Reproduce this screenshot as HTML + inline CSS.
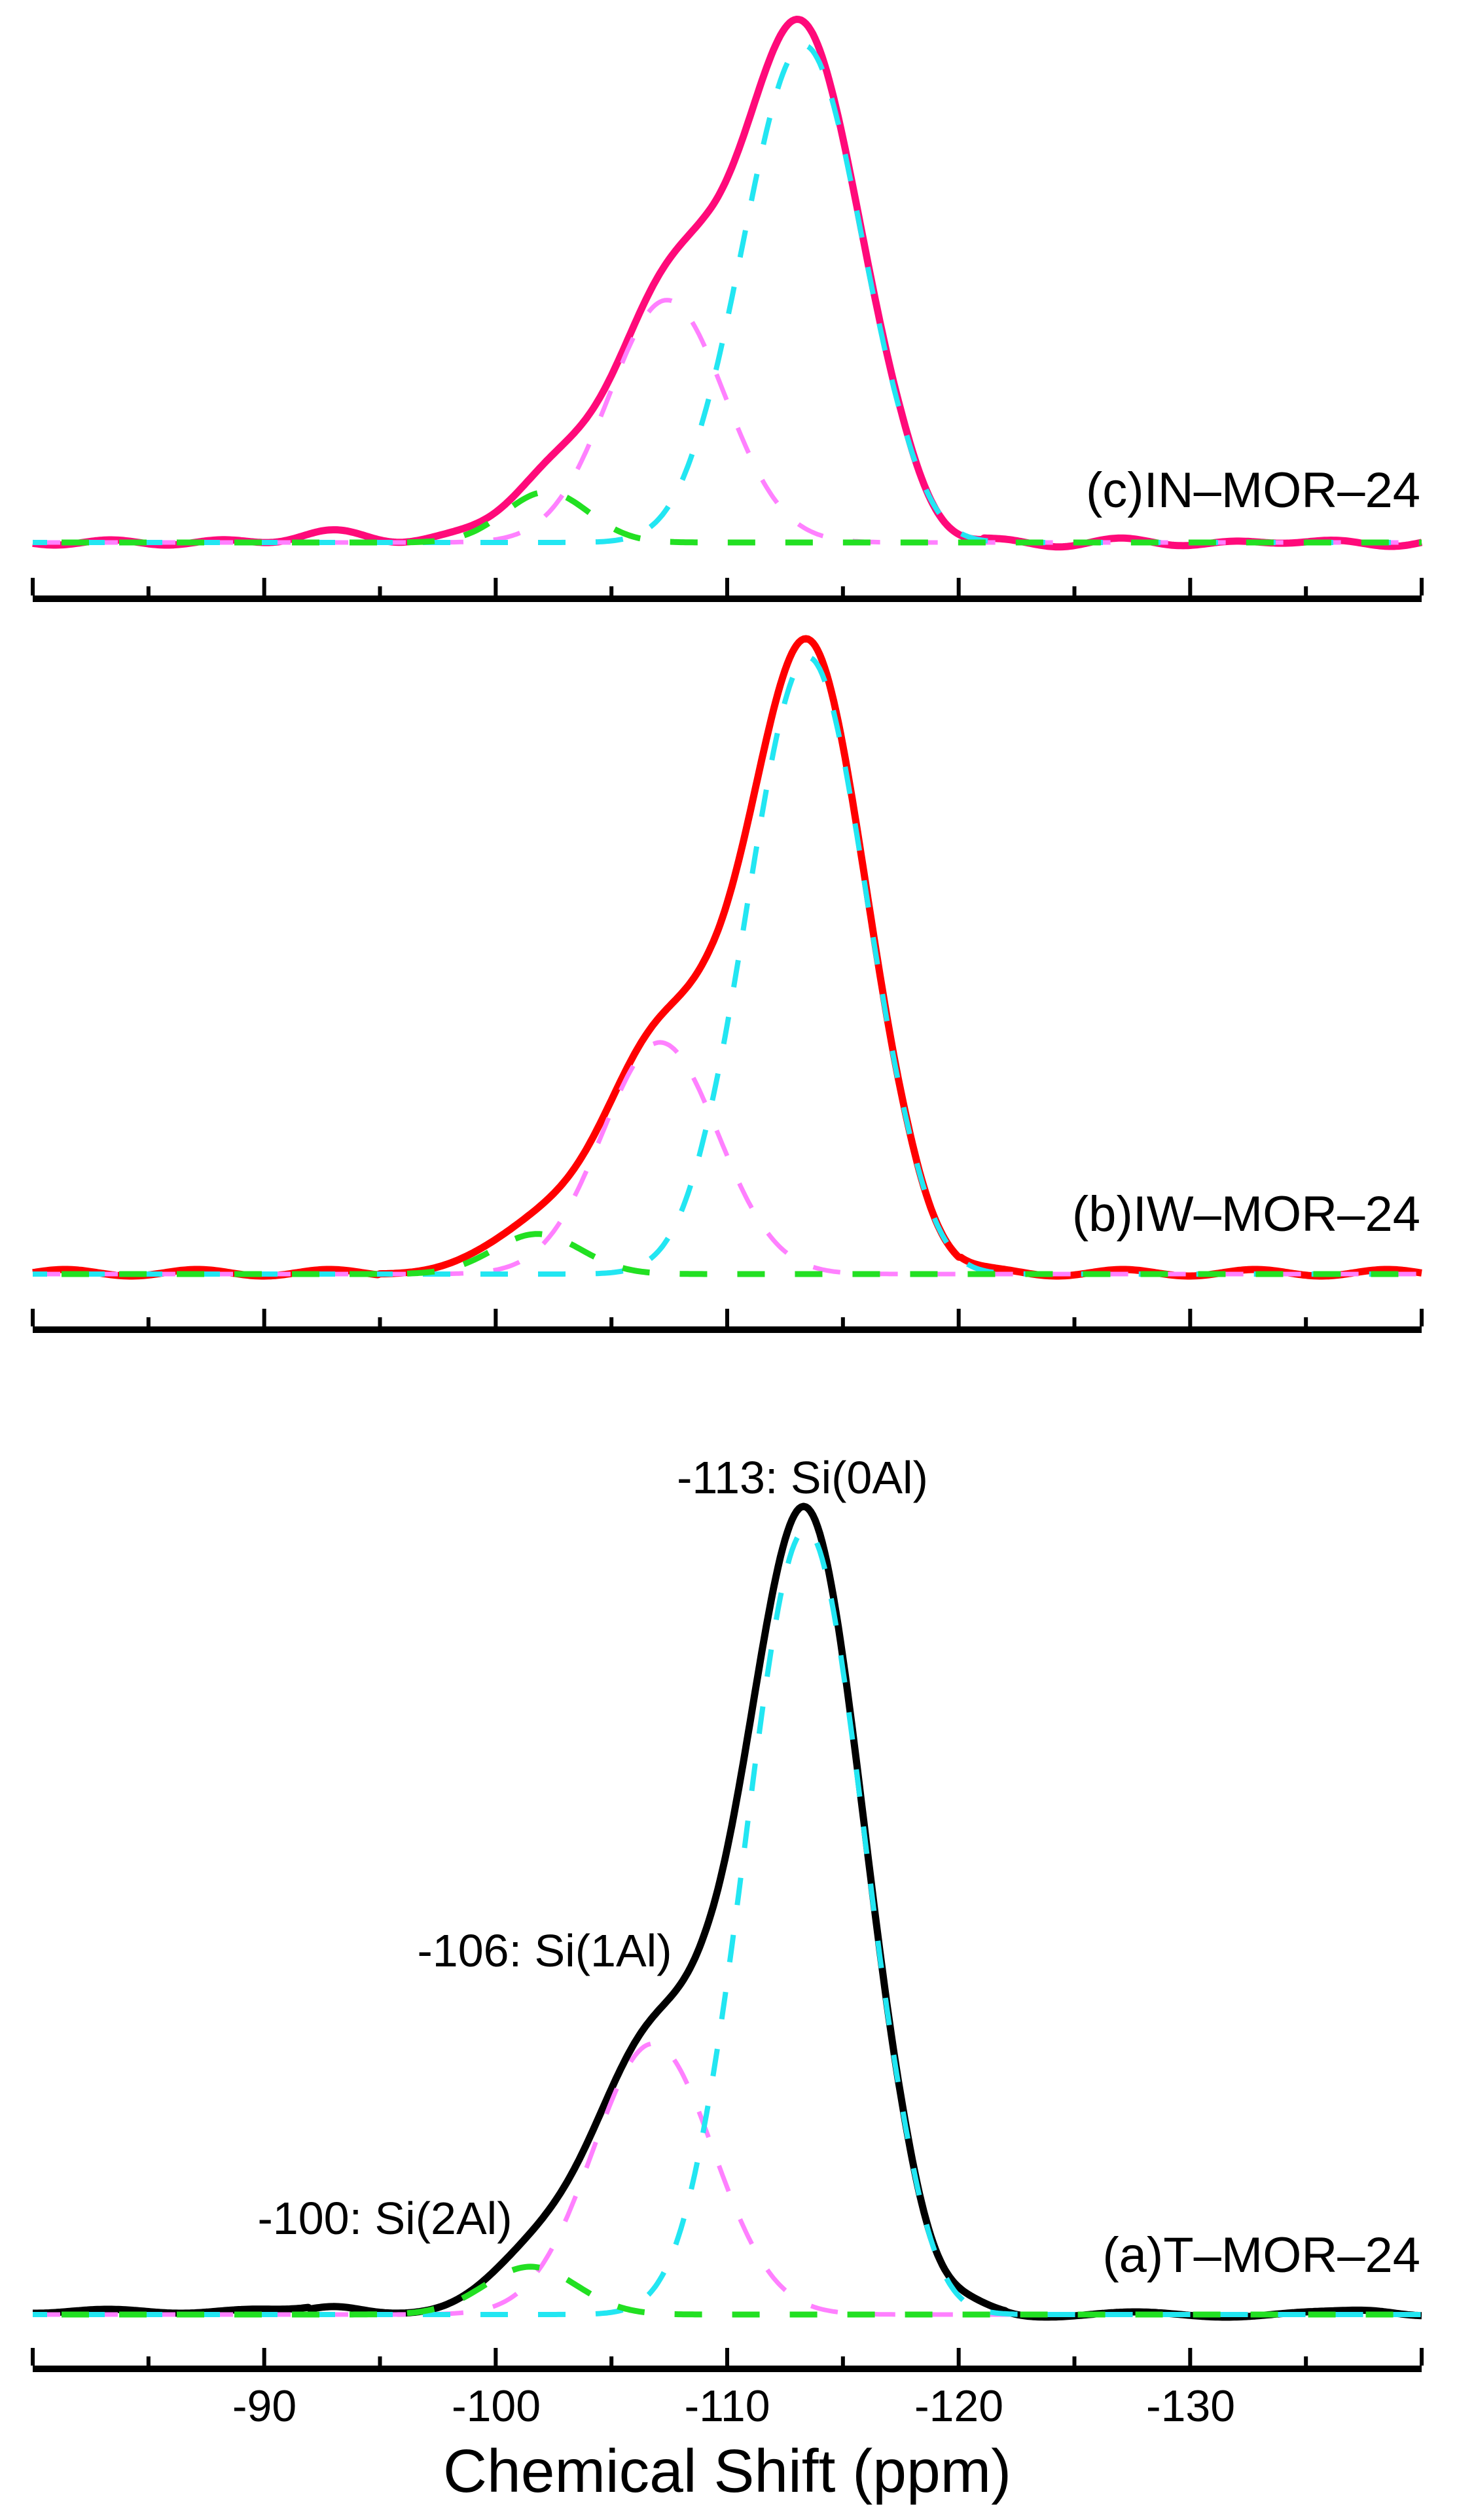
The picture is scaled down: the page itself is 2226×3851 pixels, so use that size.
<!DOCTYPE html>
<html><head><meta charset="utf-8"><style>
html,body{margin:0;padding:0;background:#fff;}
svg{display:block;}
text{font-family:"Liberation Sans",Arial,sans-serif;fill:#000;}
</style></head><body>
<svg id="s" width="2226" height="3851" viewBox="0 0 2226 3851" xmlns="http://www.w3.org/2000/svg">
<g id="plots"></g>
<text x="2170" y="775" font-size="76" text-anchor="end">(c)IN–MOR–24</text>
<text x="2170" y="1881" font-size="76" text-anchor="end">(b)IW–MOR–24</text>
<text x="2170" y="3472" font-size="76" text-anchor="end">(a)T–MOR–24</text>
<text x="1226" y="2282" font-size="70" text-anchor="middle">-113: Si(0Al)</text>
<text x="832" y="3005" font-size="70" text-anchor="middle">-106: Si(1Al)</text>
<text x="588" y="3414" font-size="70" text-anchor="middle">-100: Si(2Al)</text>
<g font-size="68" text-anchor="middle">
<text x="404" y="3700">-90</text>
<text x="758" y="3700">-100</text>
<text x="1111" y="3700">-110</text>
<text x="1465" y="3700">-120</text>
<text x="1819" y="3700">-130</text>
</g>
<text x="1111" y="3808" font-size="93" text-anchor="middle">Chemical Shift (ppm)</text>
</svg>
<script>
(function(){
var X0=50,X1=2172,P0=-80,P1=-140;
function px(p){return X0+(p-P0)/(P1-P0)*(X1-X0);}
function main(p,c){var right=p<c;var s=right?2.55:2.6;var d=(p-c)/s;var e=d*d/2;var ad=Math.abs(d);if(ad>1.6)e+=(right?0.4:0.25)*Math.pow(ad-1.6,2);return Math.exp(-e);}
function g(p,c,s){var d=(p-c)/s;return Math.exp(-d*d/2);}
var panels=[
 {base:829,H:797,axis:915,col:"#ff0a7a",cy:-113.3,pa:0.48,pc:-107.4,ps:2.5,ga:0.10,gc:-102.2,gs:1.8,
  extra:function(p){return 0.02*g(p,-93,1.6)+0.012*g(p,-99.5,1.5);},
  wig:function(p){return 4*Math.sin(p*1.3)+(p<-121?3*Math.sin(p*0.9):0);}},
 {base:1947,H:971,axis:2032,col:"#ff0000",cy:-113.5,pa:0.37,pc:-107.1,ps:2.5,ga:0.064,gc:-101.8,gs:1.9,
  extra:function(p){return 0.01*g(p,-99,1.5);},
  wig:function(p){return (p>-95||p<-120)?5*Math.sin(p*1.1)-2:0;}},
 {base:3537,H:1235,axis:3620,col:"#000000",cy:-113.4,pa:0.34,pc:-106.8,ps:2.6,ga:0.06,gc:-101.5,gs:2.0,
  extra:function(p){return 0.01*g(p,-93,1.2)+0.006*g(p,-138,1.2)+0.012*g(p,-120.5,1.0);},
  wig:function(p){return (p>-92)?-5+3*Math.sin(p):(p<-122?4*Math.sin(p*0.8):0);}}
];
var out="";
panels.forEach(function(P){
 var N=600,pts=[],mx=0;
 for(var i=0;i<=N;i++){
  var p=P0+(P1-P0)*i/N;
  var a=main(p,P.cy),b=P.pa*g(p,P.pc,P.ps),c=P.ga*g(p,P.gc,P.gs);
  var t=a+b+c+P.extra(p);
  if(t>mx)mx=t;
  pts.push([p,a,b,c,t]);
 }
 var K=P.H/mx;
 var cy="",pk="",gr="",tot="";
 pts.forEach(function(q,i){
  var x=px(q[0]).toFixed(1),pre=i?"L":"M";
  cy+=pre+x+" "+(P.base-K*q[1]*0.985).toFixed(1);
  pk+=pre+x+" "+(P.base-K*q[2]).toFixed(1);
  gr+=pre+x+" "+(P.base-K*q[3]).toFixed(1);
  tot+=pre+x+" "+(P.base-K*q[4]+P.wig(q[0])).toFixed(1);
 });
 out+='<path d="'+tot+'" fill="none" stroke="'+P.col+'" stroke-width="11" stroke-linejoin="round"/>';
 out+='<path d="'+pk+'" fill="none" stroke="#ff80ff" stroke-width="7" stroke-dasharray="42 46"/>';
 out+='<path d="'+cy+'" fill="none" stroke="#22e6f2" stroke-width="8" stroke-dasharray="42 46" stroke-dashoffset="20"/>';
 out+='<path d="'+gr+'" fill="none" stroke="#22e022" stroke-width="9" stroke-dasharray="42 46" stroke-dashoffset="44"/>';
 out+='<rect x="'+X0+'" y="'+(P.axis-5)+'" width="'+(X1-X0)+'" height="10" fill="#000"/>';
 for(var k=0;k<=12;k++){
  var xx=px(P0-5*k),L=(k%2==0)?27:14;
  out+='<rect x="'+(xx-3)+'" y="'+(P.axis-5-L)+'" width="6" height="'+L+'" fill="#000"/>';
 }
});
document.getElementById("plots").innerHTML=out;
})();
</script>
</body></html>
